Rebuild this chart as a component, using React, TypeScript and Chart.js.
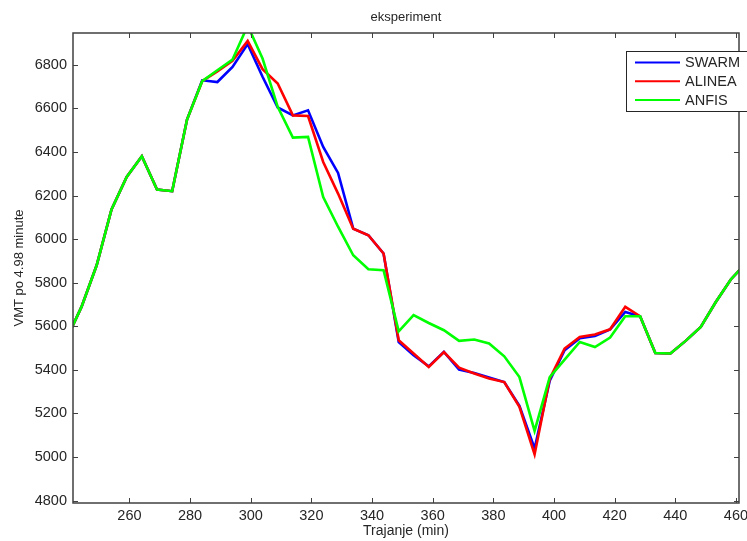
import React, { useEffect, useRef } from 'react';
import { Chart, registerables } from 'chart.js';

Chart.register(...registerables);

// Time (min) of each sample, step of 4.98 minutes
const times = [239.2, 244.2, 249.2, 254.1, 259.1, 264.1, 269.1, 274.1, 279.0, 284.0, 289.0, 294.0, 299.0, 303.9, 308.9, 313.9, 318.9, 323.9, 328.8, 333.8, 338.8, 343.8, 348.8, 353.7, 358.7, 363.7, 368.7, 373.7, 378.6, 383.6, 388.6, 393.6, 398.6, 403.5, 408.5, 413.5, 418.5, 423.5, 428.4, 433.4, 438.4, 443.4, 448.4, 453.3, 458.3, 463.3];

const swarm = [5540, 5689, 5880, 6136, 6285, 6380, 6228, 6220, 6549, 6729, 6721, 6790, 6895, 6745, 6604, 6568, 6591, 6423, 6304, 6048, 6018, 5934, 5528, 5467, 5416, 5482, 5401, 5386, 5365, 5344, 5235, 5039, 5350, 5490, 5545, 5555, 5586, 5666, 5646, 5477, 5475, 5533, 5597, 5710, 5815, 5890];

const alinea = [5540, 5689, 5880, 6136, 6285, 6380, 6228, 6220, 6549, 6725, 6770, 6818, 6910, 6780, 6714, 6568, 6565, 6354, 6209, 6048, 6018, 5934, 5536, 5475, 5413, 5482, 5410, 5383, 5360, 5344, 5230, 5012, 5360, 5498, 5551, 5562, 5586, 5689, 5646, 5477, 5475, 5533, 5597, 5710, 5815, 5890];

const anfis = [5540, 5689, 5880, 6136, 6285, 6380, 6228, 6220, 6549, 6725, 6775, 6824, 6980, 6829, 6607, 6466, 6469, 6193, 6057, 5926, 5862, 5857, 5577, 5651, 5615, 5582, 5533, 5539, 5521, 5462, 5367, 5120, 5367, 5447, 5528, 5505, 5548, 5646, 5646, 5477, 5475, 5533, 5597, 5710, 5815, 5890];

const seriesNames = ['SWARM', 'ALINEA', 'ANFIS'];
const seriesColors = ['#0000ff', '#ff0000', '#00ff00'];
const seriesValues = [swarm, alinea, anfis];

const xTicks = [260, 280, 300, 320, 340, 360, 380, 400, 420, 440, 460];
const yTicks = [4800, 5000, 5200, 5400, 5600, 5800, 6000, 6200, 6400, 6600, 6800];

const titleText = 'eksperiment';
const xTitle = 'Trajanje (min)';
const yTitle = 'VMT po 4.98 minute';

const FONT = '"Liberation Sans", Arial, sans-serif';
const TEXT = '#262626';
const AXIS = '#404040';

const decorPlugin = {
  id: 'decor',
  afterDraw(chart: any) {
    const { ctx, chartArea: a, scales } = chart;
    ctx.save();
    // frame
    ctx.strokeStyle = AXIS;
    ctx.lineWidth = 1.5;
    ctx.strokeRect(a.left, a.top, a.right - a.left, a.bottom - a.top);
    // inward ticks on all four sides
    ctx.lineWidth = 1;
    ctx.beginPath();
    xTicks.forEach((t) => {
      const px = Math.round(scales.x.getPixelForValue(t)) + 0.5;
      ctx.moveTo(px, a.bottom);
      ctx.lineTo(px, a.bottom - 5);
      ctx.moveTo(px, a.top);
      ctx.lineTo(px, a.top + 5);
    });
    yTicks.forEach((t) => {
      const py = Math.round(scales.y.getPixelForValue(t)) + 0.5;
      ctx.moveTo(a.left, py);
      ctx.lineTo(a.left + 5, py);
      ctx.moveTo(a.right, py);
      ctx.lineTo(a.right - 5, py);
    });
    ctx.stroke();

    // title
    ctx.fillStyle = TEXT;
    ctx.font = `13px ${FONT}`;
    ctx.textAlign = 'center';
    ctx.textBaseline = 'middle';
    ctx.fillText(titleText, (a.left + a.right) / 2, 17);

    // legend box
    const lx = 626;
    const ly = 51;
    ctx.fillStyle = '#ffffff';
    ctx.fillRect(lx, ly, 130, 60);
    ctx.strokeStyle = '#262626';
    ctx.lineWidth = 1;
    ctx.strokeRect(lx + 0.5, ly + 0.5, 130, 60);
    ctx.font = `14.5px ${FONT}`;
    ctx.textAlign = 'left';
    seriesNames.forEach((name, i) => {
      const y = 62.5 + i * 18.8;
      ctx.strokeStyle = seriesColors[i];
      ctx.lineWidth = 2;
      ctx.beginPath();
      ctx.moveTo(635, y);
      ctx.lineTo(680, y);
      ctx.stroke();
      ctx.fillStyle = TEXT;
      ctx.fillText(name, 685, y + 0.5);
    });
    ctx.restore();
  },
};

export default function App() {
  const canvasRef = useRef<HTMLCanvasElement | null>(null);

  useEffect(() => {
    const canvas = canvasRef.current;
    if (!canvas) return;
    const datasets = seriesNames.map((name, i) => ({
      label: name,
      data: times.map((t, j) => ({ x: t, y: seriesValues[i][j] })),
      borderColor: seriesColors[i],
      backgroundColor: seriesColors[i],
      borderWidth: 2.6,
      pointRadius: 0,
      tension: 0,
      fill: false,
      order: 2 - i,
    }));
    const chart = new Chart(canvas, {
      type: 'line',
      data: { datasets },
      options: {
        animation: false,
        responsive: false,
        devicePixelRatio: 1,
        layout: { padding: { top: 33, right: 8, left: 0, bottom: 0 } },
        plugins: {
          legend: { display: false },
          tooltip: { enabled: false },
          title: { display: false },
        },
        scales: {
          x: {
            type: 'linear',
            min: 241.4,
            max: 461,
            grid: { display: false, drawTicks: false },
            border: { display: false },
            afterBuildTicks: (s: any) => {
              s.ticks = xTicks.map((v) => ({ value: v }));
            },
            afterFit: (s: any) => {
              s.height = 38;
              s.paddingLeft = 0;
              s.paddingRight = 0;
            },
            ticks: {
              color: TEXT,
              font: { family: FONT, size: 14.5 },
              padding: 4,
              maxRotation: 0,
              autoSkip: false,
              callback: (v: any) => String(v),
            },
            title: {
              display: true,
              text: xTitle,
              color: TEXT,
              font: { family: FONT, size: 14 },
              padding: { top: 0, bottom: 1.6 },
            },
          },
          y: {
            type: 'linear',
            min: 4789,
            max: 6946,
            grid: { display: false, drawTicks: false },
            border: { display: false },
            afterBuildTicks: (s: any) => {
              s.ticks = yTicks.map((v) => ({ value: v }));
            },
            afterFit: (s: any) => {
              s.width = 73;
              s.paddingTop = 0;
              s.paddingBottom = 0;
            },
            ticks: {
              color: TEXT,
              font: { family: FONT, size: 14.5 },
              padding: 6,
              autoSkip: false,
              callback: (v: any) => String(v),
            },
            title: {
              display: true,
              text: yTitle,
              color: TEXT,
              font: { family: FONT, size: 13 },
              padding: { top: 12, bottom: 0 },
            },
          },
        },
      },
      plugins: [decorPlugin],
    } as any);
    return () => chart.destroy();
  }, []);

  return (
    <div style={{ position: 'absolute', left: 0, top: 0, width: 747, height: 541, background: '#ffffff' }}>
      <canvas ref={canvasRef} width={747} height={541} style={{ display: 'block', width: 747, height: 541 }} />
    </div>
  );
}
